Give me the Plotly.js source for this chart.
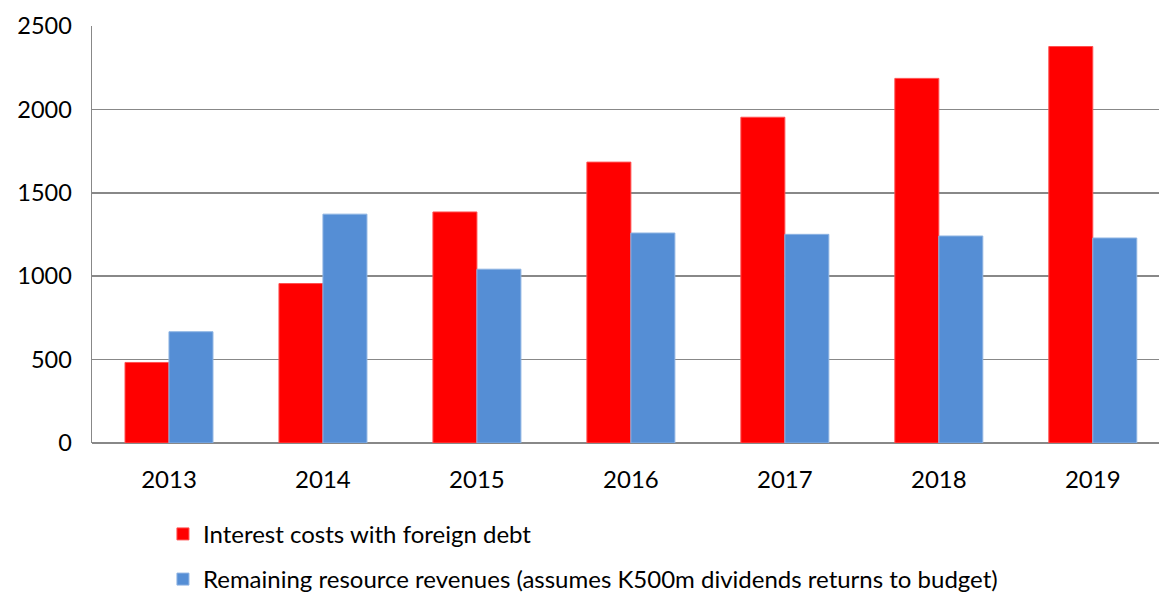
<!DOCTYPE html>
<html><head><meta charset="utf-8">
<script src="https://cdn.plot.ly/plotly-3.0.1.min.js"></script>
<style>html,body{margin:0;padding:0;overflow:hidden;background:#fff}</style>
</head><body><div id="chart" style="width:1159px;height:596px;overflow:hidden"></div>
<script>
var years = ['2013','2014','2015','2016','2017','2018','2019'];
var interestCosts = [483, 956, 1385, 1684, 1953, 2186, 2377];
var resourceRevenues = [667, 1372, 1042, 1259, 1251, 1241, 1229];
var seriesNames = ['Interest costs with foreign debt', 'Remaining resource revenues (assumes K500m dividends returns to budget)'];
var yTicks = [0, 500, 1000, 1500, 2000, 2500];

var font = 'Lato, "Open Sans", sans-serif';
var traces = [
  {type:'bar', x:years, y:interestCosts, name:seriesNames[0], legendgroup:'a',
   marker:{color:'#FF0000', line:{color:'#FF5050', width:1}}},
  {type:'bar', x:years, y:resourceRevenues, name:seriesNames[1], legendgroup:'b',
   marker:{color:'#558ED5', line:{color:'#8DB3E2', width:1}}}
];
var H = 640;
var layout = {
  width:1159, height:H,
  margin:{l:92, r:0, t:25.5, b:H-443.5},
  paper_bgcolor:'#fff', plot_bgcolor:'#fff',
  barmode:'group', bargap:0.4286, bargroupgap:0,
  font:{family:font, size:24, color:'#000'},
  xaxis:{type:'category', range:[-0.5, 6.43], showgrid:false, zeroline:false,
    showline:false, ticks:'', tickfont:{size:24, family:font}, ticklabelstandoff:20, automargin:false},
  yaxis:{range:[0,2500], tickvals:yTicks, ticktext:yTicks.map(String), showgrid:true,
    gridcolor:'#888888', gridwidth:1.5, zeroline:true, zerolinecolor:'#888888', zerolinewidth:1.5,
    showline:true, linecolor:'#888888', linewidth:1.5, ticks:'', ticklen:0, ticklabelstandoff:14,
    tickfont:{size:23.5, family:font}, automargin:false},
  showlegend:true,
  legend:{orientation:'v', x:0.0665, xanchor:'left', y:-0.165, yanchor:'top',
    traceorder:'grouped', tracegroupgap:11, font:{size:24, family:font}, bgcolor:'rgba(0,0,0,0)'}
};
Plotly.newPlot('chart', traces, layout, {displayModeBar:false, staticPlot:true});
</script></body></html>
